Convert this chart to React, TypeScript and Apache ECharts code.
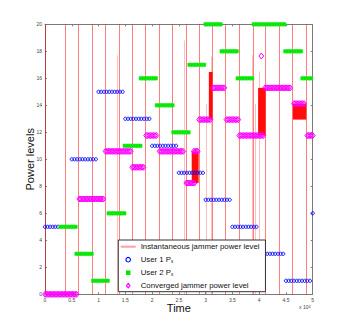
import React, { useEffect, useRef } from "react";
import * as echarts from "echarts";

// ---------- data (time in units of 10^4) ----------
// Full sweeps of the instantaneous jammer power (time of each vertical sweep)
const sweepTimes: number[] = [
  0, 0.385, 0.635, 0.88, 1.125, 1.385, 1.63, 1.88, 2.13, 2.375, 2.64, 2.88, 3.13,
  3.38, 3.63, 3.885, 4.12, 4.38, 4.63, 4.88,
];
// Partial sweeps: [time, top level]
const partialSweeps: [number, number][] = [
  [1.36, 17.7], [2.61, 18.8], [3.02, 14.1], [3.11, 17.6], [3.87, 17.7], [3.94, 14.1], [4.0, 16.5],
];
// Fast oscillation bands of the instantaneous jammer: [t0, t1, low, high]
const oscillationBands: [number, number, number, number][] = [
  [2.74, 2.87, 8.24, 10.59],
  [3.06, 3.13, 12.94, 16.47],
  [3.98, 4.12, 11.76, 15.29],
  [4.63, 4.88, 12.94, 14.12],
];
// User 1 P_s: [t0, t1, level]
const user1Segments: [number, number, number][] = [
  [0.0, 0.24, 5], [0.5, 0.95, 10], [1.0, 1.45, 15], [1.5, 1.95, 13], [2.0, 2.45, 11],
  [2.5, 2.95, 9], [3.0, 3.45, 7], [3.5, 3.95, 5], [4.1, 4.45, 3], [4.5, 4.95, 1], [5.0, 5.0, 6],
];
// User 2 P_s: [t0, t1, level]
const user2Segments: [number, number, number][] = [
  [0.29, 0.57, 5], [0.59, 0.87, 3], [0.9, 1.17, 1], [1.19, 1.48, 6], [1.49, 1.78, 11],
  [1.79, 2.07, 16], [2.09, 2.38, 14], [2.4, 2.68, 12], [2.7, 2.97, 17], [3.0, 3.28, 20],
  [3.3, 3.58, 18], [3.6, 3.87, 16], [3.9, 4.47, 20], [4.49, 4.78, 18], [4.81, 4.97, 16],
];
// Converged jammer power level: [t0, t1, level]
const jammerSegments: [number, number, number][] = [
  [0.0, 0.59, 0], [0.64, 1.09, 7.06], [1.13, 1.6, 10.59], [1.63, 1.84, 9.41], [1.89, 2.08, 11.76],
  [2.14, 2.58, 10.59], [2.64, 2.79, 8.24], [2.78, 2.85, 10.59], [2.88, 3.09, 12.94],
  [3.14, 3.35, 15.29], [3.39, 3.61, 12.94], [3.63, 4.08, 11.76], [4.04, 4.04, 17.65],
  [4.11, 4.58, 15.29], [4.65, 4.84, 14.12], [4.9, 5.0, 11.76],
];
const xMin = 0, xMax = 5, xStep = 0.5;
const yMin = 0, yMax = 20, yStep = 2;

const FONT = "Liberation Sans, Arial, Helvetica, sans-serif";
const N_INST = "Instantaneous jammer power level";
const N_U1 = "User 1 Ps";
const N_U2 = "User 2 Ps";
const N_CONV = "Converged jammer power level";

type Kind = "circle" | "square" | "diamond";

function marker(kind: Kind, x: number, y: number): any {
  if (kind === "circle") {
    return { type: "circle", shape: { cx: x, cy: y, r: 1.6 }, style: { fill: "none", stroke: "#0000ff", lineWidth: 0.9 } };
  }
  if (kind === "square") {
    return { type: "rect", shape: { x: x - 1.8, y: y - 1.8, width: 3.6, height: 3.6 }, style: { fill: "#00e600", stroke: "#33ee33", lineWidth: 0.5 } };
  }
  return {
    type: "polygon",
    shape: { points: [[x, y - 3], [x + 2.4, y], [x, y + 3], [x - 2.4, y]] },
    style: { fill: "none", stroke: "#ff00ff", lineWidth: 1 },
  };
}

function rowRenderer(kind: Kind, spacing: number) {
  return (_p: any, api: any) => {
    const t0 = api.value(0), t1 = api.value(1), y = api.value(2);
    const a = api.coord([t0, y]);
    const b = api.coord([t1, y]);
    const len = b[0] - a[0];
    const n = Math.max(0, Math.round(len / spacing));
    const children: any[] = [];
    for (let i = 0; i <= n; i++) {
      const x = n === 0 ? a[0] : a[0] + (len * i) / n;
      children.push(marker(kind, x, a[1]));
    }
    return { type: "group", children };
  };
}

export default function App() {
  const ref = useRef<HTMLDivElement>(null);
  useEffect(() => {
    if (!ref.current) return;
    const chart = echarts.init(ref.current, undefined, { renderer: "svg" });
    const axisColor = "#7a7a7a";
    const sweepData = [
      ...sweepTimes.map((t) => [t, 0, 20, 0.5]),
      ...partialSweeps.map(([t, top]) => [t, 0, top, 0.25]),
    ];
    const option: any = {
      animation: false,
      backgroundColor: "#fff",
      grid: { left: 45, right: 33.3, top: 24.3, bottom: 36.7, containLabel: false },
      xAxis: [
        {
          type: "value", min: xMin, max: xMax, interval: xStep, position: "bottom",
          name: "Time", nameLocation: "middle", nameGap: 8.5, nameMoveOverlap: false,
          nameTextStyle: { fontSize: 11, fontFamily: FONT, color: "#111" },
          axisLine: { show: true, onZero: false, lineStyle: { color: axisColor, width: 1 } },
          axisTick: { show: true, inside: true, length: 2, lineStyle: { color: axisColor } },
          axisLabel: { fontSize: 5, color: "#444", margin: 3, fontFamily: FONT },
          splitLine: { show: false },
        },
        {
          type: "value", min: xMin, max: xMax, interval: xStep, position: "top",
          axisLine: { show: true, onZero: false, lineStyle: { color: axisColor, width: 1 } },
          axisTick: { show: true, inside: true, length: 2, lineStyle: { color: axisColor } },
          axisLabel: { show: false }, splitLine: { show: false },
        },
      ],
      yAxis: [
        {
          type: "value", min: yMin, max: yMax, interval: yStep, position: "left",
          name: "Power levels", nameLocation: "middle", nameGap: 10, nameMoveOverlap: false,
          nameTextStyle: { fontSize: 11, fontFamily: FONT, color: "#111" },
          axisLine: { show: true, onZero: false, lineStyle: { color: axisColor, width: 1 } },
          axisTick: { show: true, inside: true, length: 2, lineStyle: { color: axisColor } },
          axisLabel: { fontSize: 5, color: "#444", margin: 3, fontFamily: FONT },
          splitLine: { show: false },
        },
        {
          type: "value", min: yMin, max: yMax, interval: yStep, position: "right",
          axisLine: { show: true, onZero: false, lineStyle: { color: axisColor, width: 1 } },
          axisTick: { show: true, inside: true, length: 2, lineStyle: { color: axisColor } },
          axisLabel: { show: false }, splitLine: { show: false },
        },
      ],
      legend: {
        orient: "vertical", left: 118.3, top: 240,
        padding: [2.2, 6, 1.5, 2.4], itemGap: 4, itemWidth: 15, itemHeight: 4.5,
        backgroundColor: "#fff", borderColor: "#333", borderWidth: 1, borderRadius: 0,
        selectedMode: false,
        formatter: (name: string) => {
          if (name === N_U1) return "User 1 P{sub|s}";
          if (name === N_U2) return "User 2 P{sub|s}";
          return name;
        },
        textStyle: {
          fontFamily: FONT, fontSize: 7.8, color: "#111", lineHeight: 9,
          rich: { sub: { fontFamily: FONT, fontSize: 4.5, color: "#111", verticalAlign: "bottom", lineHeight: 9 } },
        },
        data: [
          { name: N_INST, icon: "path://M0,0h15v2h-15z", itemStyle: { color: "#ff9f9f", borderWidth: 0 } },
          { name: N_U1, icon: "circle", itemStyle: { color: "#ffffff", borderColor: "#0000ff", borderWidth: 1.1 } },
          { name: N_U2, icon: "path://M0,0h10v10h-10z", itemStyle: { color: "#00e600", borderWidth: 0 } },
          { name: N_CONV, icon: "path://M4,0L8,5L4,10L0,5Z", itemStyle: { color: "#ffffff", borderColor: "#ff00ff", borderWidth: 1.1 } },
        ],
      },
      graphic: [
        {
          type: "text", left: 299, top: 304.5,
          style: {
            text: "x 10{sup|4}", fontFamily: FONT, fontSize: 5, fill: "#444",
            rich: { sup: { fontSize: 3.8, fill: "#444", verticalAlign: "top", lineHeight: 5 } },
          },
        },
      ],
      series: [
        {
          name: N_INST, type: "custom", coordinateSystem: "cartesian2d",
          itemStyle: { color: "#ff9f9f" }, clip: false,
          encode: { x: 0, y: [1, 2] },
          data: sweepData,
          renderItem: (_p: any, api: any) => {
            const t = api.value(0);
            const p0 = api.coord([t, api.value(1)]);
            const p1 = api.coord([t, api.value(2)]);
            const x = Math.round(p0[0] - 0.5) + 0.5;
            return {
              type: "line",
              shape: { x1: x, y1: p0[1], x2: x, y2: p1[1] },
              style: { stroke: `rgba(255,0,0,${api.value(3)})`, lineWidth: 1 },
            };
          },
          z: 1,
        },
        {
          name: N_INST, type: "custom", coordinateSystem: "cartesian2d",
          itemStyle: { color: "#ff9f9f" }, clip: false,
          encode: { x: [0, 1], y: [2, 3] },
          data: oscillationBands,
          renderItem: (_p: any, api: any) => {
            const a = api.coord([api.value(0), api.value(3)]);
            const b = api.coord([api.value(1), api.value(2)]);
            return {
              type: "rect",
              shape: { x: a[0], y: a[1], width: b[0] - a[0], height: b[1] - a[1] },
              style: { fill: "rgba(255,0,0,0.95)" },
            };
          },
          z: 2,
        },
        {
          name: N_U1, type: "custom", coordinateSystem: "cartesian2d", clip: false,
          itemStyle: { color: "#ffffff", borderColor: "#0000ff" },
          encode: { x: [0, 1], y: 2 }, data: user1Segments,
          renderItem: rowRenderer("circle", 2.7), z: 3,
        },
        {
          name: N_U2, type: "custom", coordinateSystem: "cartesian2d", clip: false,
          itemStyle: { color: "#00e600" },
          encode: { x: [0, 1], y: 2 }, data: user2Segments,
          renderItem: rowRenderer("square", 2.7), z: 4,
        },
        {
          name: N_CONV, type: "custom", coordinateSystem: "cartesian2d", clip: false,
          itemStyle: { color: "#ffffff", borderColor: "#ff00ff" },
          encode: { x: [0, 1], y: 2 }, data: jammerSegments,
          renderItem: rowRenderer("diamond", 1.4), z: 5,
        },
      ],
    };
    chart.setOption(option);
    return () => chart.dispose();
  }, []);
  return (
    <div
      ref={ref}
      style={{ position: "fixed", left: 0, top: 0, width: 346, height: 331, background: "#fff" }}
    />
  );
}
